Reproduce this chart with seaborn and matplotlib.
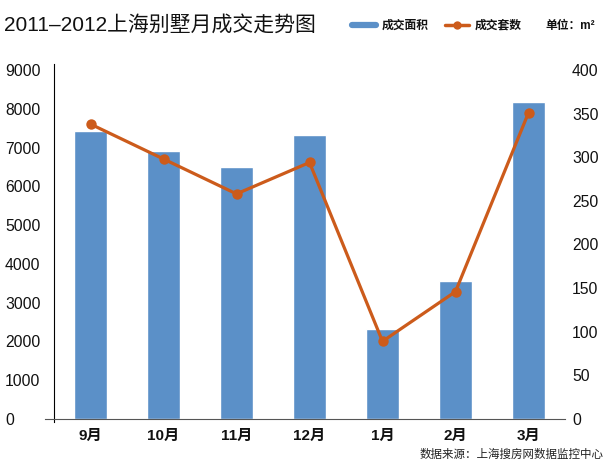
import matplotlib
matplotlib.use("Agg")
import matplotlib.pyplot as plt
from matplotlib.lines import Line2D
import seaborn as sns
import pandas as pd

months = ["9月", "10月", "11月", "12月", "1月", "2月", "3月"]
area = [7420, 6900, 6500, 7320, 2320, 3550, 8170]
units = [338, 298, 258, 294, 89, 146, 351]
left_ticks = [0, 1000, 2000, 3000, 4000, 5000, 6000, 7000, 8000, 9000]
right_ticks = [0, 50, 100, 150, 200, 250, 300, 350, 400]

title = "2011–2012上海别墅月成交走势图"
bar_label = "成交面积"
line_label = "成交套数"
unit_text = "单位：m²"
source_text = "数据来源：上海搜房网数据监控中心"

BLUE = "#5b90c8"
ORANGE = "#cc5b1b"

sns.set_theme(style="white")
plt.rcParams["font.family"] = ["Liberation Sans", "Noto Sans CJK SC", "DejaVu Sans"]

df = pd.DataFrame({"month": months, "area": area, "units": units})

fig = plt.figure(figsize=(6.12, 4.66), dpi=100)
ax = fig.add_axes([54 / 612, 1 - 419 / 466, (565 - 54) / 612, (419 - 70) / 466])

sns.barplot(data=df, x="month", y="area", order=months, color=BLUE,
            saturation=1, width=0.45, ax=ax)
ax.set_xlim(-0.5, 6.5)
ax.set_ylim(0, 9000)
ax.set_yticks(left_ticks)
ax.set_xlabel("")
ax.set_ylabel("")

ax2 = ax.twinx()
sns.lineplot(x=list(range(len(months))), y=units, color=ORANGE, lw=2.3,
             marker="o", markersize=7.5, markeredgewidth=0, ax=ax2)
ax2.set_ylim(0, 400)
ax2.set_yticks(right_ticks)
ax2.set_xlim(-0.5, 6.5)

for a in (ax, ax2):
    for s in ["top", "right", "left", "bottom"]:
        a.spines[s].set_visible(False)
    a.grid(False)

ax.spines["left"].set_visible(True)
ax.spines["left"].set_color("black")
ax.spines["left"].set_linewidth(0.8)
ax.spines["left"].set_bounds(-80, 9150)
ax.spines["bottom"].set_visible(True)
ax.spines["bottom"].set_color("#555555")
ax.spines["bottom"].set_linewidth(0.8)
ax.spines["bottom"].set_bounds(-0.62, 6.5)

ax.tick_params(axis="y", length=0, pad=35.3, labelsize=11.3, labelcolor="#111111")
for lab in ax.get_yticklabels():
    lab.set_horizontalalignment("left")
ax.tick_params(axis="x", length=0, pad=7, labelsize=11, labelcolor="#111111")
for lab in ax.get_xticklabels():
    lab.set_fontweight("bold")
ax2.tick_params(axis="y", length=0, pad=5, labelsize=11.3, labelcolor="#111111")
ax2.set_ylabel("")

fig.text(4 / 612, 1 - 25 / 466, title, fontsize=15, va="center", ha="left", color="#111111")

handles = [Line2D([0], [0], color=BLUE, lw=4.5),
           Line2D([0], [0], color=ORANGE, lw=2.5, marker="o", markersize=6, markeredgewidth=0)]
leg = fig.legend(handles, [bar_label, line_label], loc="center left",
                 bbox_to_anchor=(352 / 612, 1 - 26 / 466), ncol=2, frameon=False,
                 fontsize=8.5, handlelength=2.0, handletextpad=0.5, columnspacing=1.4,
                 borderpad=0, borderaxespad=0)
for t in leg.get_texts():
    t.set_color("#111111")
    t.set_fontweight("bold")
fig.text(545 / 612, 1 - 26 / 466, unit_text, fontsize=8.5, va="center", ha="left",
         color="#111111", fontweight="bold")

fig.text(604 / 612, 1 - 455 / 466, source_text, fontsize=8.3, va="center", ha="right", color="#222222")

fig.savefig("out.png", dpi=100)
